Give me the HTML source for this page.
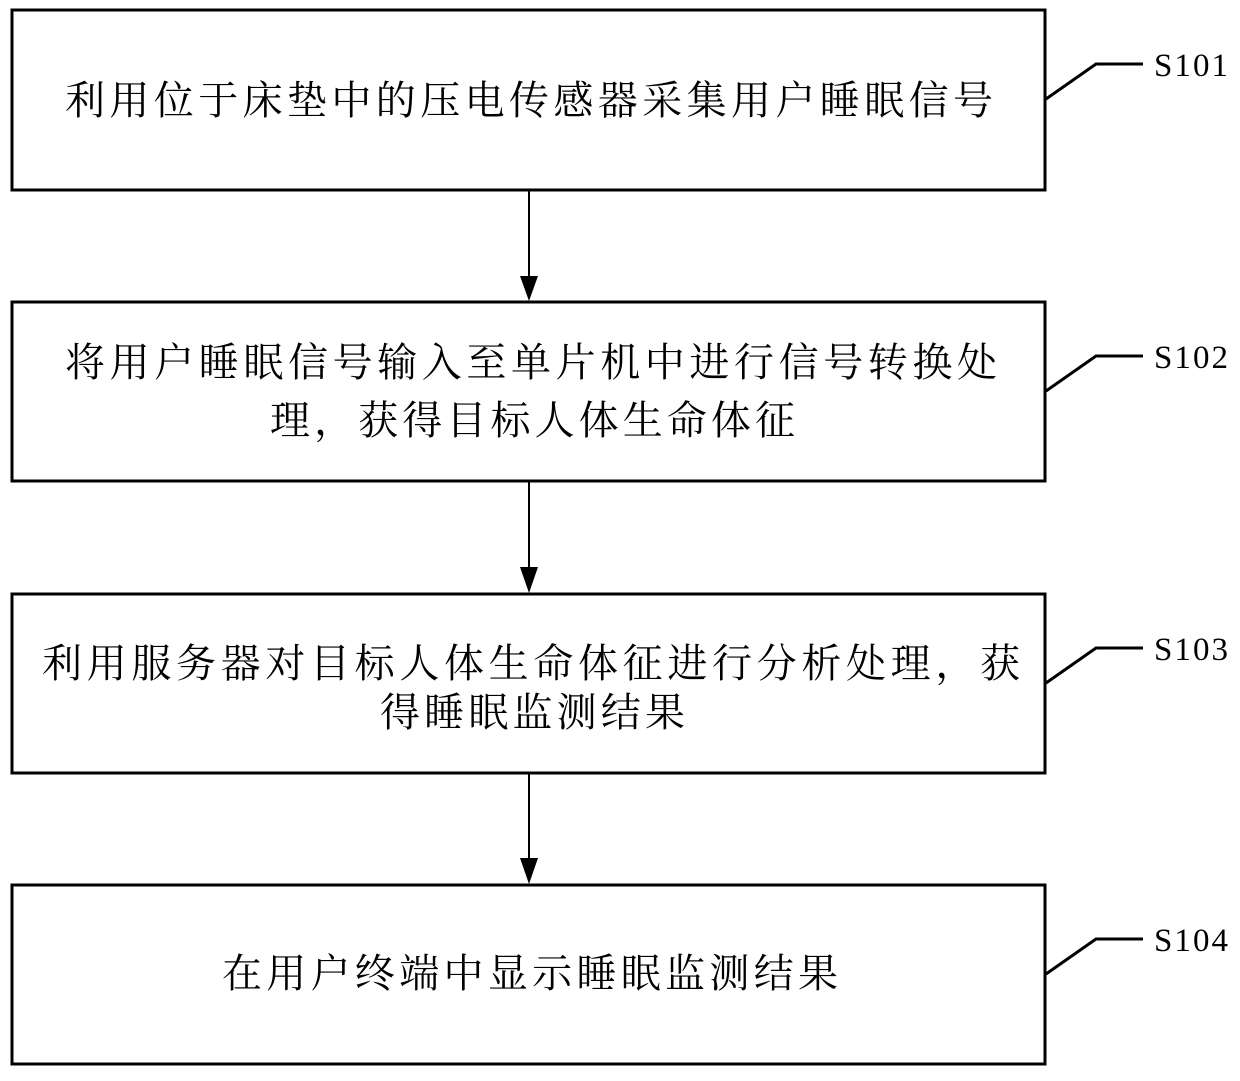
<!DOCTYPE html>
<html><head><meta charset="utf-8"><style>
html,body{margin:0;padding:0;background:#fff;}
svg text{font-family:"Liberation Serif","Noto Serif CJK SC",serif;fill:#000;}
</style></head><body>
<svg width="1240" height="1076" viewBox="0 0 1240 1076" xmlns="http://www.w3.org/2000/svg">
<g fill="none" stroke="#000" stroke-width="3">
<rect x="12" y="10" width="1033" height="180"/>
<rect x="12" y="302" width="1033" height="179"/>
<rect x="12" y="594" width="1033" height="179"/>
<rect x="12" y="885" width="1033" height="179"/>
<polyline points="1046,99 1096,64 1143,64"/>
<polyline points="1046,391 1096,356 1143,356"/>
<polyline points="1046,683 1096,648 1143,648"/>
<polyline points="1046,974 1096,939 1143,939"/>
</g>
<g stroke="#000" stroke-width="2">
<line x1="529" y1="190" x2="529" y2="280"/>
<line x1="529" y1="481" x2="529" y2="572"/>
<line x1="529" y1="773" x2="529" y2="862"/>
</g>
<g fill="#000">
<polygon points="520,276 538,276 529,301"/>
<polygon points="520,567 538,567 529,593"/>
<polygon points="520,858 538,858 529,884"/>
</g>
<g font-size="40" lengthAdjust="spacing">
<text x="65" y="114" textLength="928">利用位于床垫中的压电传感器采集用户睡眠信号</text>
<text x="65" y="376" textLength="932">将用户睡眠信号输入至单片机中进行信号转换处</text>
<text x="270" y="434" textLength="525">理，获得目标人体生命体征</text>
<text x="42" y="677" textLength="978">利用服务器对目标人体生命体征进行分析处理，获</text>
<text x="380" y="726" textLength="305">得睡眠监测结果</text>
<text x="222" y="987" textLength="616">在用户终端中显示睡眠监测结果</text>
</g>
<g font-size="33" lengthAdjust="spacingAndGlyphs">
<text x="1154" y="76" textLength="74">S101</text>
<text x="1154" y="368" textLength="74">S102</text>
<text x="1154" y="660" textLength="74">S103</text>
<text x="1154" y="951" textLength="74">S104</text>
</g>
</svg>
</body></html>
